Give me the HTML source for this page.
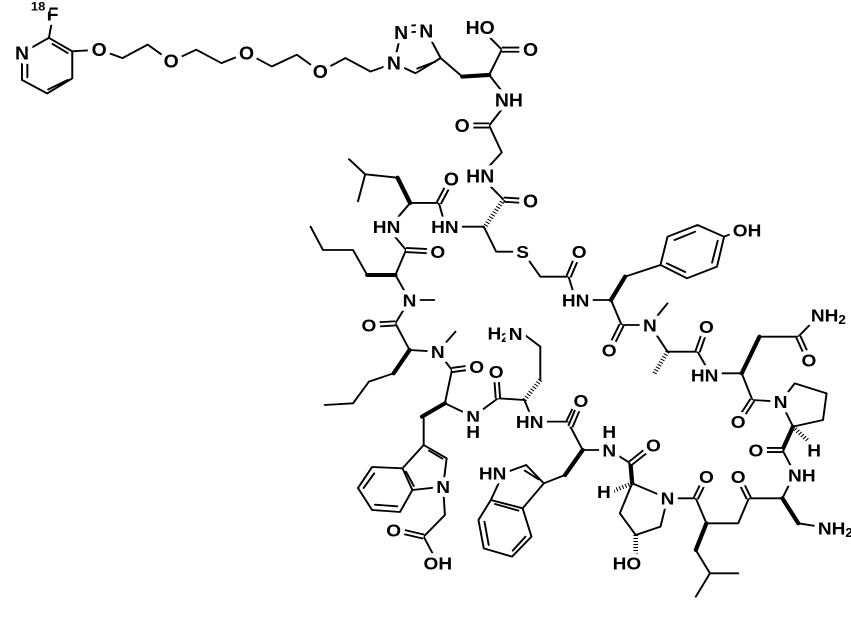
<!DOCTYPE html>
<html><head><meta charset="utf-8"><style>
html,body{margin:0;padding:0;background:#fff;width:851px;height:619px;overflow:hidden}
svg{display:block}
.s{fill:none;stroke:#000;stroke-width:5.5;stroke-linejoin:round;stroke-linecap:round}
.w{stroke:#000;stroke-width:12;stroke-linecap:round}
.h{stroke:#000;stroke-width:13;stroke-dasharray:3 6}
.d1{stroke:#000;stroke-width:18}
.d2{stroke:#fff;stroke-width:7}
text{font-family:"Liberation Sans",Arial,sans-serif;font-size:54px;font-weight:bold;fill:#000;text-anchor:middle;dominant-baseline:central;stroke:#fff;stroke-width:26;paint-order:stroke;stroke-linejoin:round}
tspan.sub{font-size:38px;stroke:none}
</style></head><body>
<svg width="851" height="619" viewBox="0 0 851 619" xmlns="http://www.w3.org/2000/svg">
<rect width="851" height="619" fill="#fff"/>
<!-- Group A -->
<g transform="translate(-1.4,-0.9) scale(0.3594,0.337)">
<path class="s" d="M65,160L140,115L205,155L205,235L135,280L65,240Z M150,133L192,160 M192,240L138,268 M80,172L80,232 M140,115L148,68"/>
<path class="s" d="M205,155L280,150L345,175L415,135L480,185L550,150L620,190L690,160L760,200L830,165L895,215L965,175L1035,215L1100,190"/>
<path class="s" d="M1100,190L1120,100L1190,95L1230,175L1160,220Z M1125,80L1185,76 M1215,186L1165,206 M1230,175L1290,230"/>
<line class="w" x1="1365" y1="225" x2="1290" y2="230"/>
<path class="s" d="M1365,225L1400,150L1340,85 M1365,225L1420,300L1365,375L1400,455L1340,525L1405,595"/>
<line class="d1" x1="1400" y1="150" x2="1480" y2="150"/><line class="d2" x1="1400" y1="150" x2="1480" y2="150"/>
<line class="d1" x1="1365" y1="375" x2="1290" y2="375"/><line class="d2" x1="1365" y1="375" x2="1290" y2="375"/>
<line class="d1" x1="1405" y1="595" x2="1480" y2="600"/><line class="d2" x1="1405" y1="595" x2="1480" y2="600"/>
<line class="h" x1="1350" y1="680" x2="1405" y2="595"/>
<path class="s" d="M1145,605L1225,605L1245,680 M1110,530L1020,520L975,475 M1020,520L1000,600 M1145,605L1085,680"/>
<line class="d1" x1="1225" y1="605" x2="1260" y2="535"/><line class="d2" x1="1225" y1="605" x2="1260" y2="535"/>
<line class="w" x1="1145" y1="605" x2="1110" y2="530"/>
<text x="65" y="160">N</text><text x="150" y="45">F</text><text x="110" y="22" style="font-size:36px">18</text>
<text x="280" y="150">O</text><text x="480" y="185">O</text><text x="690" y="160">O</text><text x="895" y="215">O</text>
<text x="1100" y="190">N</text><text x="1120" y="100">N</text><text x="1190" y="95">N</text>
<text x="1340" y="85">HO</text><text x="1480" y="150">O</text><text x="1420" y="300">NH</text><text x="1290" y="375">O</text>
<text x="1340" y="525">HN</text><text x="1480" y="600">O</text>
<text x="1260" y="535">O</text>
</g>
<!-- Group B -->
<g transform="translate(300,200) scale(0.3534,0.3333)">
<path class="s" d="M245,80L300,150L270,225 M30,80L65,150L150,150L190,225 M270,225L310,300L380,300 M310,300L270,370L310,450L390,455L440,395 M265,520L195,545L150,610L70,615 M390,455L430,510L410,610L490,650 M490,650L560,595L635,600 M680,540L680,440L630,400 M635,600L660,665L760,665"/>
<line class="w" x1="270" y1="225" x2="190" y2="225"/>
<line class="w" x1="310" y1="450" x2="265" y2="520"/>
<line class="w" x1="410" y1="610" x2="345" y2="650"/>
<line class="h" x1="635" y1="600" x2="680" y2="540"/>
<line class="d1" x1="300" y1="150" x2="390" y2="155"/><line class="d2" x1="300" y1="150" x2="390" y2="155"/>
<line class="d1" x1="270" y1="370" x2="195" y2="375"/><line class="d2" x1="270" y1="370" x2="195" y2="375"/>
<line class="d1" x1="430" y1="510" x2="500" y2="500"/><line class="d2" x1="430" y1="510" x2="500" y2="500"/>
<line class="d1" x1="560" y1="595" x2="555" y2="520"/><line class="d2" x1="560" y1="595" x2="555" y2="520"/>
<line class="d1" x1="760" y1="665" x2="790" y2="600"/><line class="d2" x1="760" y1="665" x2="790" y2="600"/>
<path class="s" d="M410,80L520,80 M520,80L555,155L630,155L680,230L760,230L780,300L880,300 M920,230L1020,195 M1020,195L1040,110L1125,75L1200,110L1180,200L1095,235Z M1060,120L1118,95 M1182,122L1166,188 M1090,216L1038,190 M1200,110L1235,95"/>
<line class="d1" x1="760" y1="230" x2="790" y2="155"/><line class="d2" x1="760" y1="230" x2="790" y2="155"/>
<line class="w" x1="880" y1="300" x2="920" y2="230"/>
<path class="s" d="M880,300L910,375L990,375L1040,310 M990,375L1040,455L1125,455L1160,520L1250,520 M1300,410L1410,410L1470,345 M1250,520L1280,600L1360,605"/>
<line class="d1" x1="910" y1="375" x2="875" y2="450"/><line class="d2" x1="910" y1="375" x2="875" y2="450"/>
<line class="h" x1="1040" y1="455" x2="1000" y2="525"/>
<line class="d1" x1="1125" y1="455" x2="1150" y2="380"/><line class="d2" x1="1125" y1="455" x2="1150" y2="380"/>
<line class="w" x1="1250" y1="520" x2="1300" y2="410"/>
<line class="d1" x1="1410" y1="410" x2="1440" y2="480"/><line class="d2" x1="1410" y1="410" x2="1440" y2="480"/>
<line class="d1" x1="1280" y1="600" x2="1240" y2="665"/><line class="d2" x1="1280" y1="600" x2="1240" y2="665"/>
<text x="245" y="80">HN</text><text x="410" y="80">HN</text><text x="390" y="155">O</text>
<text x="310" y="300">N</text><text x="195" y="375">O</text><text x="390" y="455">N</text><text x="500" y="500">O</text>
<text x="490" y="650">N</text><text x="490" y="695">H</text><text x="555" y="515">O</text>
<text x="580" y="400">H<tspan class="sub" dy="12">2</tspan><tspan dy="-12">N</tspan></text>
<text x="650" y="665">HN</text><text x="790" y="600">O</text><text x="630" y="155">S</text><text x="790" y="155">O</text>
<text x="780" y="300">HN</text><text x="1265" y="90">OH</text><text x="875" y="450">O</text><text x="990" y="375">N</text>
<text x="1150" y="380">O</text><text x="1145" y="525">HN</text>
<text x="1495" y="345">NH<tspan class="sub" dy="12">2</tspan></text>
<text x="1440" y="480">O</text><text x="1240" y="665">O</text><text x="1360" y="605">N</text>
</g>
<!-- Group C -->
<g transform="translate(300,380) scale(0.3534,0.3333)">
<path class="s" d="M1360,65L1400,10L1490,40L1480,120L1395,140Z M1365,210L1400,280L1365,355 M1410,430L1470,440 M1365,355L1270,355L1240,430L1150,430L1120,355L1040,355 M1120,510L1160,580L1240,580 M1160,580L1120,650"/>
<line class="h" x1="1395" y1="140" x2="1440" y2="185"/>
<line class="w" x1="1395" y1="140" x2="1365" y2="210"/>
<line class="d1" x1="1365" y1="210" x2="1290" y2="210"/><line class="d2" x1="1365" y1="210" x2="1290" y2="210"/>
<line class="w" x1="1365" y1="355" x2="1410" y2="430"/>
<line class="d1" x1="1270" y1="355" x2="1240" y2="290"/><line class="d2" x1="1270" y1="355" x2="1240" y2="290"/>
<line class="d1" x1="1120" y1="355" x2="1150" y2="290"/><line class="d2" x1="1120" y1="355" x2="1150" y2="290"/>
<line class="w" x1="1150" y1="430" x2="1120" y2="510"/>
<path class="s" d="M1040,355L1020,440L950,465L905,400L940,310Z M935,250L875,210L800,210L765,140 M750,285L690,310"/>
<line class="h" x1="940" y1="310" x2="880" y2="335"/>
<line class="h" x1="950" y1="465" x2="950" y2="530"/>
<line class="w" x1="940" y1="310" x2="935" y2="250"/>
<line class="d1" x1="935" y1="250" x2="1000" y2="195"/><line class="d2" x1="935" y1="250" x2="1000" y2="195"/>
<line class="d1" x1="765" y1="140" x2="795" y2="65"/><line class="d2" x1="765" y1="140" x2="795" y2="65"/>
<line class="w" x1="800" y1="210" x2="750" y2="285"/>
<path class="s" d="M690,310L640,255L575,280L540,360L630,385Z M675,298L636,272 M540,360L505,420L520,505L600,530L655,470L630,385 M522,425L534,495 M602,512L638,470 M552,372L618,392"/>
<path class="s" d="M350,115L350,195L415,235L405,320L318,330L290,265L350,195 M365,212L403,236 M290,265L204,261L164,324L204,390L283,396L318,330 M210,280L180,324 M212,374L275,379 M300,275L322,318 M405,320L410,405L350,470L380,530"/>
<line class="d1" x1="350" y1="470" x2="270" y2="450"/><line class="d2" x1="350" y1="470" x2="270" y2="450"/>
<text x="1455" y="210">H</text><text x="1290" y="210">O</text><text x="1420" y="285">NH</text><text x="1360" y="65">N</text>
<text x="1515" y="445">NH<tspan class="sub" dy="12">2</tspan></text>
<text x="1240" y="290">O</text><text x="1150" y="290">O</text><text x="1040" y="355">N</text>
<text x="860" y="335">H</text><text x="925" y="550">HO</text><text x="1000" y="195">O</text>
<text x="875" y="210">N</text><text x="875" y="155">H</text><text x="795" y="62">O</text>
<text x="545" y="280">HN</text><text x="405" y="320">N</text><text x="265" y="450">O</text><text x="390" y="550">OH</text>
</g>
</svg>
</body></html>
